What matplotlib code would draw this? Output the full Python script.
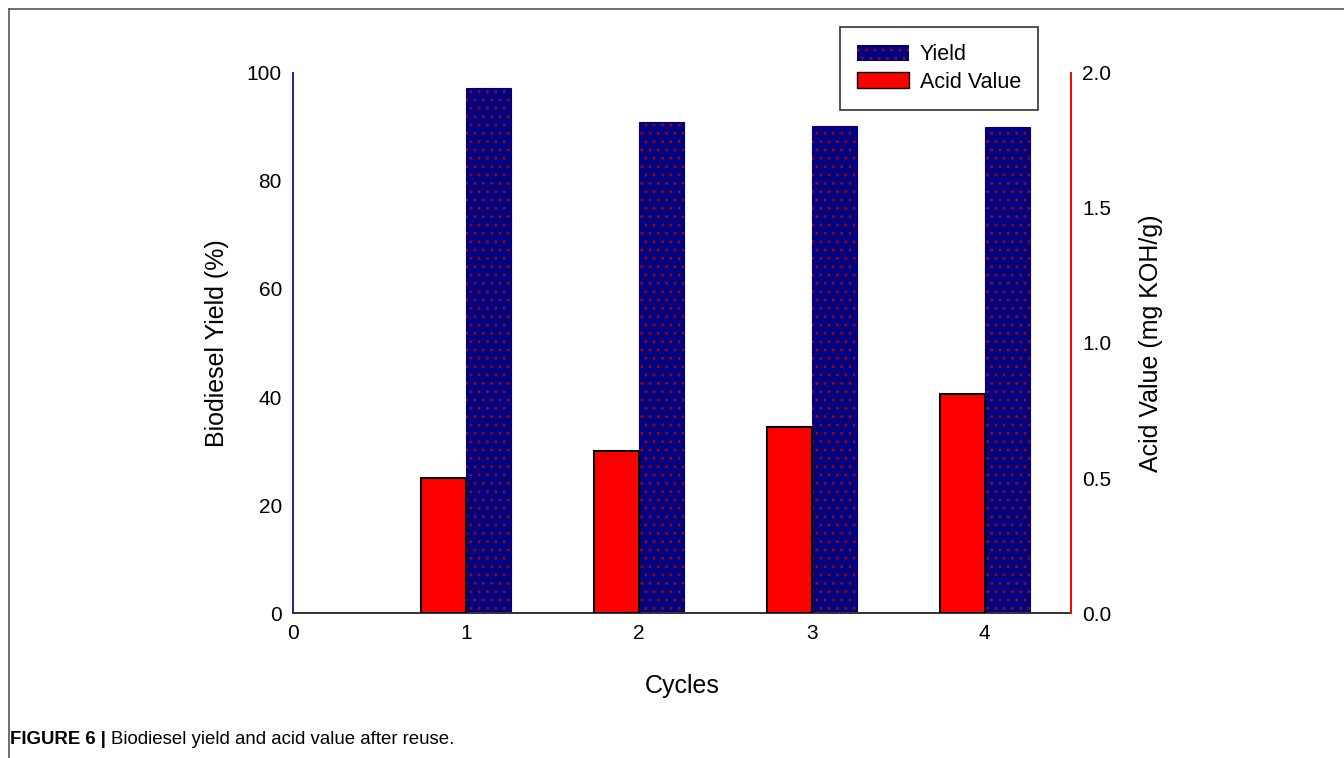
import matplotlib.pyplot as plt
import numpy as np
from matplotlib.lines import Line2D

plt.rcParams['font.family'] = ['Liberation Sans', 'DejaVu Sans']
plt.rcParams['hatch.linewidth'] = 0.8

cycles = [1, 2, 3, 4]
yield_pct = [97.2, 90.8, 90.2, 90.0]
acid_value = [0.50, 0.60, 0.69, 0.81]

bar_w = 0.26
x = np.array(cycles)

fig = plt.figure(figsize=(13.44, 7.58), dpi=100)
ax = fig.add_axes([0.218, 0.191, 0.579, 0.713])
ax2 = ax.twinx()

# yield bars: navy with small red dots
ax.bar(x + bar_w / 2, yield_pct, bar_w, color='#000080', edgecolor='#000080', linewidth=0.8)
ax.bar(x + bar_w / 2, yield_pct, bar_w, facecolor='none', edgecolor='#b00000', hatch='..', linewidth=0)

ax2.bar(x - bar_w / 2, acid_value, bar_w, color='#ff0000', edgecolor='black', linewidth=1.5)

ax.set_xlim(0, 4.5)
ax.set_ylim(0, 100)
ax2.set_ylim(0, 2.0)
ax.set_xticks([0, 1, 2, 3, 4])
ax.set_yticks([0, 20, 40, 60, 80, 100])
ax2.set_yticks([0, 0.5, 1.0, 1.5, 2.0])
ax2.set_yticklabels(['0.0', '0.5', '1.0', '1.5', '2.0'])

for a in (ax, ax2):
    a.spines['top'].set_visible(False)
    a.tick_params(length=0, labelsize=15, pad=8)
ax.spines['right'].set_visible(False)
ax.spines['left'].set_color('#2020a0')
ax.spines['left'].set_linewidth(1.4)
ax2.spines['left'].set_visible(False)
ax2.spines['right'].set_color('#ff0000')
ax2.spines['right'].set_linewidth(1.4)
ax2.spines['bottom'].set_visible(False)
ax.spines['bottom'].set_color('#333333')
ax.spines['bottom'].set_linewidth(1.4)

ax.set_ylabel('Biodiesel Yield (%)', fontsize=18, labelpad=13)
ax2.set_ylabel('Acid Value (mg KOH/g)', fontsize=18, labelpad=20)
ax.set_xlabel('Cycles', fontsize=18, labelpad=22)

handles = [
    plt.Rectangle((0, 0), 1, 1, facecolor='#000080', edgecolor='#b00000', hatch='..', linewidth=0),
    plt.Rectangle((0, 0), 1, 1, facecolor='#ff0000', edgecolor='black', linewidth=1),
]
leg = fig.legend(handles, ['Yield', 'Acid Value'], loc='upper left',
                 bbox_to_anchor=(840 / 1344, 1 - 27 / 758), borderaxespad=0, fontsize=15.5,
                 frameon=True, fancybox=False, edgecolor='black',
                 handlelength=2.4, handleheight=0.8, borderpad=0.8, labelspacing=0.3,
                 handletextpad=0.5)
leg.get_frame().set_linewidth(1.2)

# figure frame
fig.add_artist(Line2D([9 / 1344, 1], [1 - 9 / 758, 1 - 9 / 758], color='#555555', lw=1.2))
fig.add_artist(Line2D([9 / 1344, 9 / 1344], [0, 1 - 9 / 758], color='#555555', lw=1.2))

t1 = fig.text(10 / 1344, 1 - 744 / 758, 'FIGURE 6 |', fontsize=13.4, fontweight='bold', va='baseline')
fig.canvas.draw()
bb = t1.get_window_extent()
fig.text((bb.x1 + 5) / 1344, 1 - 744 / 758, 'Biodiesel yield and acid value after reuse.',
         fontsize=13.4, va='baseline')

fig.savefig('out.png', dpi=100)
